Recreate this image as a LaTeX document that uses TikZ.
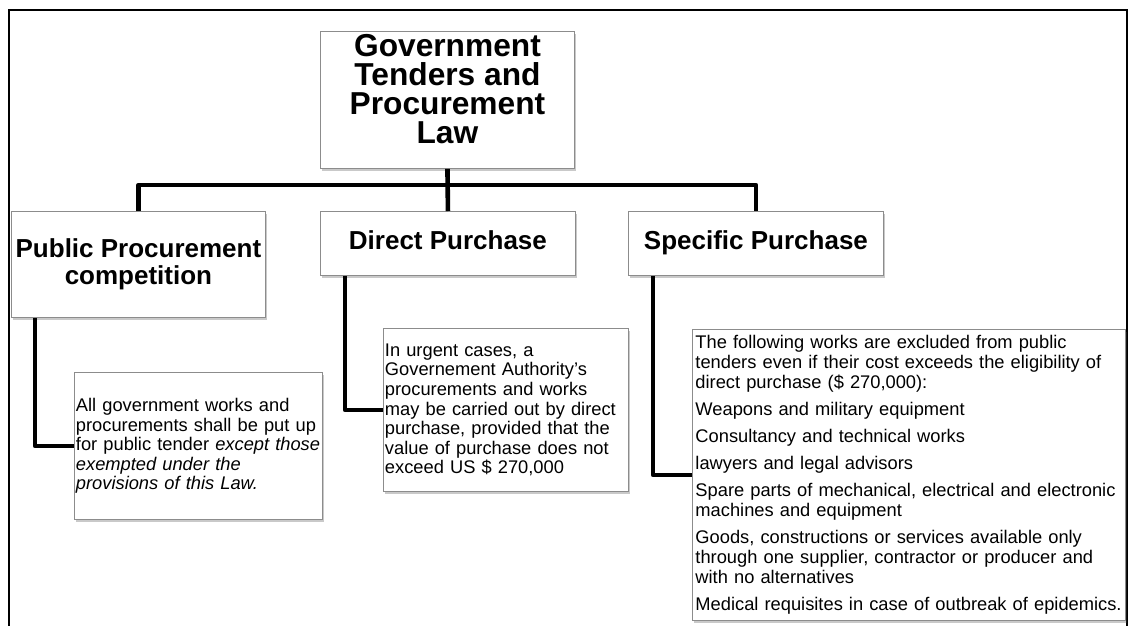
\documentclass[tikz,border=0pt]{standalone}
\usepackage{fontspec}
\setmainfont{Liberation Sans}
\usetikzlibrary{shadows}
\begin{document}
\begin{tikzpicture}[x=1pt,y=-1pt,
  box/.style={draw=black!45, line width=0.9pt, fill=white, anchor=north west, inner sep=0pt,
    drop shadow={shadow xshift=1.5pt, shadow yshift=-2.5pt, opacity=0.3, fill=black!70}},
  titlefont/.style={font=\fontsize{31.7}{29}\selectfont\bfseries},
  headfont/.style={font=\fontsize{26}{27.5}\selectfont\bfseries},
  bodyfont/.style={font=\fontsize{18.3}{19.6}\selectfont},
  conn/.style={line width=4.6pt, line join=round},
  frame/.style={line width=1.5pt}]
\useasboundingbox (0,0) rectangle (1130,626);
% outer frame (open at the bottom)
\draw[frame] (9,626) -- (9,10) -- (1127,10);
\draw[line width=2.5pt] (1127,9.25) -- (1127,626);
% top box
\node[box, minimum width=254pt, minimum height=137pt] (law) at (320,31) {};
\node[titlefont, align=center, inner sep=0pt] (lawtext) at ([yshift=11pt]law.center)
  {Government\\Tenders and\\Procurement\\Law};
% level-2 boxes
\node[box, headfont, align=center, minimum width=254pt, minimum height=106pt] (ppc) at (11,211)
  {Public Procurement\\competition};
\node[box, headfont, text height=18pt, text depth=6pt, minimum width=255pt, minimum height=64pt] (dp) at (320,211)
  {Direct Purchase};
\node[box, headfont, text height=18pt, text depth=6pt, minimum width=255pt, minimum height=64pt] (sp) at (628,211)
  {Specific Purchase};
% detail boxes
\node[box, bodyfont, align=left, text width=245pt, inner xsep=1.5pt, minimum height=147pt] (ppcd) at (74,372)
  {\mbox{All government works and}\\\mbox{procurements shall be put up}\\\mbox{for public tender \textit{except those}}\\\mbox{\textit{exempted under the}}\\\mbox{\textit{provisions of this Law.}}};
\node[box, bodyfont, align=left, text width=242pt, inner xsep=1.5pt, minimum height=163pt] (dpd) at (383,328)
  {\mbox{In urgent cases, a}\\\mbox{Governement Authority's}\\\mbox{procurements and works}\\\mbox{may be carried out by direct}\\\mbox{purchase, provided that the}\\\mbox{value of purchase does not}\\\mbox{exceed US \$ 270,000}};
\node[box, font=\fontsize{18.3}{20}\selectfont, align=left, text width=427pt, inner xsep=3pt, minimum height=291pt] (spd) at (692,329)
  {\mbox{The following works are excluded from public}\\\mbox{tenders even if their cost exceeds the eligibility of}\\\mbox{direct purchase (\$ 270,000):}\\[7pt]
   \mbox{Weapons and military equipment}\\[7pt]
   \mbox{Consultancy and technical works}\\[7pt]
   \mbox{lawyers and legal advisors}\\[7pt]
   \mbox{Spare parts of mechanical, electrical and electronic}\\\mbox{machines and equipment}\\[7pt]
   \mbox{Goods, constructions or services available only}\\\mbox{through one supplier, contractor or producer and}\\\mbox{with no alternatives}\\[7pt]
   \mbox{Medical requisites in case of outbreak of epidemics.}};
% connectors
\coordinate (bus) at (447,185);
\draw[conn] (law.south) -- (dp.north);
\draw[conn] (ppc.north) -- (ppc.north |- bus) -- (sp.north |- bus) -- (sp.north);
\draw[conn] ([xshift=24pt]ppc.south west) |- (ppcd.west);
\draw[conn] ([xshift=25pt]dp.south west) |- (dpd.west);
\draw[conn] ([xshift=25pt]sp.south west) |- (spd.west);
\end{tikzpicture}
\end{document}
